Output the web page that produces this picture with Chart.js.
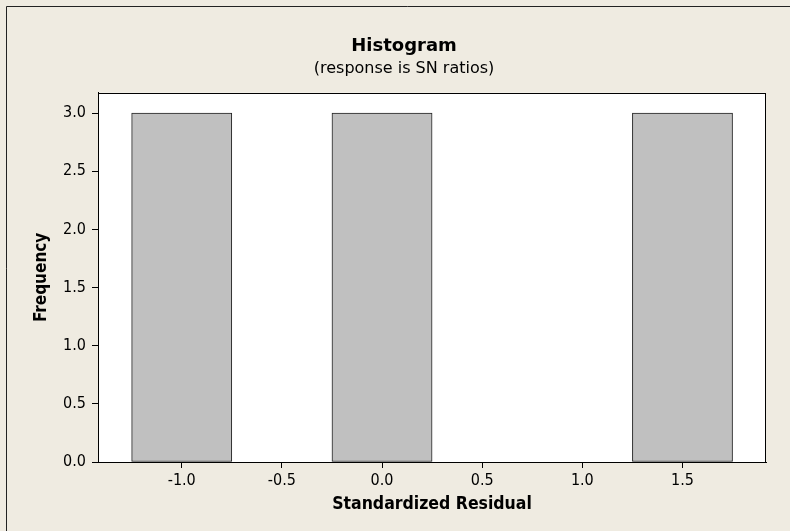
<!DOCTYPE html>
<html>
<head>
<meta charset="utf-8">
<script src="https://cdn.jsdelivr.net/npm/chart.js@4.4.1/dist/chart.umd.min.js"></script>
<style>
  html, body { margin: 0; padding: 0; background: #EFEBE1; overflow: hidden; }
  #wrap { position: relative; width: 790px; height: 531px; overflow: hidden; }
  #chart { position: absolute; left: 0; top: 0; }
</style>
</head>
<body>
<div id="wrap">
  <canvas id="chart" width="808" height="531"></canvas>
</div>
<script>
// Histogram bins (midpoints) and their counts
const binMidpoints = [-1.0, -0.5, 0.0, 0.5, 1.0, 1.5];
const frequencies = [3, 0, 3, 0, 0, 3];
const xTickStep = 0.5;
const yTickStep = 0.5;

const FONT = "'DejaVu Sans Condensed', 'DejaVu Sans', sans-serif";
const FONT_WIDE = "'DejaVu Sans', sans-serif";

// Graph-window frame (left and top edges) plus white plot background
const backdrop = {
  id: 'backdrop',
  beforeDraw(chart) {
    const ctx = chart.ctx;
    const a = chart.chartArea;
    ctx.save();
    ctx.fillStyle = '#EFEBE1';
    ctx.fillRect(0, 0, chart.width, chart.height);
    ctx.strokeStyle = '#222';
    ctx.lineWidth = 1;
    ctx.beginPath();
    ctx.moveTo(6.5, chart.height);
    ctx.lineTo(6.5, 6.5);
    ctx.lineTo(chart.width, 6.5);
    ctx.stroke();
    ctx.fillStyle = '#fff';
    ctx.fillRect(a.left, a.top, a.right - a.left, a.bottom - a.top);
    ctx.restore();
  }
};

// Black box around the plot area
const plotFrame = {
  id: 'plotFrame',
  afterDatasetsDraw(chart) {
    const a = chart.chartArea;
    const ctx = chart.ctx;
    ctx.save();
    ctx.strokeStyle = '#000';
    ctx.lineWidth = 1;
    ctx.strokeRect(Math.round(a.left) + 0.5, Math.round(a.top) + 0.5,
                   Math.round(a.right - a.left) - 1, Math.round(a.bottom - a.top));
    ctx.restore();
  }
};

new Chart(document.getElementById('chart'), {
  type: 'bar',
  data: {
    datasets: [{
      data: binMidpoints.map((x, i) => ({ x: x, y: frequencies[i] })),
      backgroundColor: '#C0C0C0',
      borderColor: '#222',
      borderWidth: 1,
      barPercentage: 1.0,
      categoryPercentage: 1.0,
      borderSkipped: false
    }]
  },
  plugins: [backdrop, plotFrame],
  options: {
    responsive: false,
    animation: false,
    layout: { padding: 0 },
    plugins: {
      legend: { display: false },
      tooltip: { enabled: false },
      title: {
        display: true,
        text: 'Histogram',
        color: '#000',
        font: { family: FONT_WIDE, size: 18, weight: 'bold', lineHeight: 1.2 },
        padding: { top: 36, bottom: 1.5 }
      },
      subtitle: {
        display: true,
        text: '(response is SN ratios)',
        color: '#000',
        font: { family: FONT_WIDE, size: 16, lineHeight: 1.2 },
        padding: { top: 0, bottom: 14.5 }
      }
    },
    scales: {
      x: {
        type: 'linear',
        min: -1.418,
        max: 1.917,
        offset: false,
        ticks: {
          stepSize: xTickStep,
          includeBounds: false,
          color: '#000',
          padding: 3,
          maxRotation: 0,
          font: { family: FONT, size: 16 },
          callback: v => v.toFixed(1)
        },
        grid: { display: true, offset: false, drawOnChartArea: false, drawTicks: true, tickLength: 6, color: '#000' },
        border: { display: true, color: '#000', width: 1 },
        title: {
          display: true,
          text: 'Standardized Residual',
          color: '#000',
          font: { family: FONT, size: 17.5, weight: 'bold', lineHeight: 1.2 },
          padding: { top: 0, bottom: 16 }
        },
        afterFit(scale) { scale.height = 69; }
      },
      y: {
        min: 0,
        max: 3.175,
        ticks: {
          stepSize: yTickStep,
          includeBounds: false,
          color: '#000',
          padding: 6,
          font: { family: FONT, size: 16 },
          callback: v => v.toFixed(1)
        },
        grid: { display: true, drawOnChartArea: false, drawTicks: true, tickLength: 6, color: '#000' },
        border: { display: true, color: '#000', width: 1 },
        title: {
          display: true,
          text: 'Frequency',
          color: '#000',
          font: { family: FONT, size: 17, weight: 'bold', lineHeight: 1.2 },
          padding: { top: 31.5, bottom: 0 }
        },
        afterFit(scale) { scale.width = 98; }
      },
      // empty margin to the right of the plot
      margin: {
        type: 'linear',
        position: 'right',
        display: true,
        ticks: { display: false },
        grid: { display: false },
        border: { display: false },
        afterFit(scale) { scale.width = 42; }
      }
    }
  }
});
</script>
</body>
</html>
